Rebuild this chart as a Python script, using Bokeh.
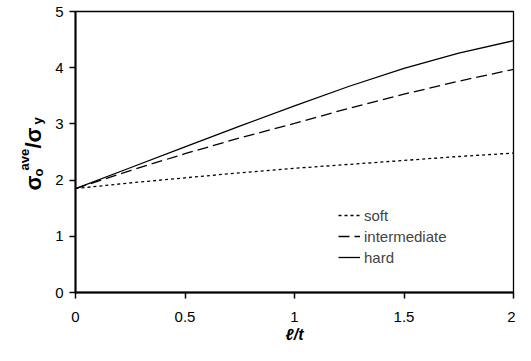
import math
from bokeh.plotting import figure
from bokeh.layouts import row
from bokeh.models import Range1d, FixedTicker, Label, Legend, LegendItem
from bokeh.embed import file_html
from bokeh.resources import INLINE

# data
x_vals = [0, 0.25, 0.5, 0.75, 1.0, 1.25, 1.5, 1.75, 2.0]
soft = [1.85, 1.95, 2.04, 2.13, 2.21, 2.28, 2.35, 2.42, 2.48]
intermediate = [1.85, 2.17, 2.47, 2.75, 3.01, 3.28, 3.53, 3.76, 3.97]
hard = [1.85, 2.22, 2.59, 2.96, 3.32, 3.67, 3.99, 4.26, 4.48]
series_names = ["soft", "intermediate", "hard"]
x_ticks = [0, 0.5, 1, 1.5, 2]
x_tick_labels = ["0", "0.5", "1", "1.5", "2"]
y_ticks = [0, 1, 2, 3, 4, 5]
y_tick_labels = ["0", "1", "2", "3", "4", "5"]

FONT = "Liberation Sans"
W, H = 515, 345
TW = 50                              # width of the strip holding the y-axis title
FL, FR, FT, FB = 75, 513, 11, 296    # frame edges in page-canvas pixels

# ---- strip with the rotated y-axis title ----
t = figure(width=TW, height=H, output_backend="svg", toolbar_location=None,
           x_axis_type=None, y_axis_type=None,
           min_border_left=0, min_border_right=0, min_border_top=FT, min_border_bottom=H - FB)
t.outline_line_color = None
t.xgrid.visible = False
t.ygrid.visible = False
t.background_fill_color = "white"
t.border_fill_color = "white"

def ylab(text, px, py, size):
    # screen units are measured from the frame's bottom-left corner
    t.add_layout(Label(x=px, y=FB - py, x_units="screen", y_units="screen",
                       text=text, angle=math.pi / 2, angle_units="rad", text_font=FONT,
                       text_font_style="bold", text_font_size=size,
                       text_baseline="alphabetic", text_align="left",
                       text_color="black"))

ylab("\u03c3", 33, 194, "22px")
ylab("o", 38, 180, "13px")
ylab("ave", 24, 174, "13px")
ylab("/\u03c3", 33, 152, "22px")
ylab("y", 37, 128, "13px")

# ---- main plot ----
p = figure(width=W - TW, height=H, output_backend="svg", toolbar_location=None,
           x_range=Range1d(0, 2), y_range=Range1d(0, 5),
           min_border_left=FL - TW, min_border_right=W - FR, min_border_top=FT,
           min_border_bottom=H - FB)
p.xgrid.visible = False
p.ygrid.visible = False
p.background_fill_color = "white"
p.border_fill_color = "white"
p.outline_line_color = "black"
p.outline_line_width = 1.3

for ax in (p.xaxis[0], p.yaxis[0]):
    ax.axis_line_width = 2
    ax.axis_line_color = "black"
    ax.major_tick_line_width = 1.5
    ax.major_tick_in = 0
    ax.major_tick_out = 6
    ax.minor_tick_line_color = None
    ax.major_label_text_font = FONT
    ax.major_label_text_font_size = "15px"
    ax.major_label_text_color = "black"

p.xaxis.ticker = FixedTicker(ticks=x_ticks)
p.yaxis.ticker = FixedTicker(ticks=y_ticks)
p.xaxis.major_label_overrides = {t_: l for t_, l in zip(x_ticks, x_tick_labels)}
p.yaxis.major_label_overrides = {t_: l for t_, l in zip(y_ticks, y_tick_labels)}
p.xaxis.major_label_standoff = 13
p.yaxis.major_label_standoff = 6

p.xaxis.axis_label = "\u2113/t"
p.xaxis.axis_label_text_font = FONT
p.xaxis.axis_label_text_font_style = "bold italic"
p.xaxis.axis_label_text_font_size = "16px"
p.xaxis.axis_label_standoff = 1
p.xaxis.axis_label_text_color = "black"

r_soft = p.line(x_vals, soft, line_color="black", line_width=1.3, line_dash="3 3")
r_int = p.line(x_vals, intermediate, line_color="black", line_width=1.3, line_dash="11 5")
r_hard = p.line(x_vals, hard, line_color="black", line_width=1.3)

legend = Legend(items=[LegendItem(label=series_names[0], renderers=[r_soft]),
                       LegendItem(label=series_names[1], renderers=[r_int]),
                       LegendItem(label=series_names[2], renderers=[r_hard])],
                location=(263, 26), label_text_font=FONT, label_text_font_size="15px",
                glyph_width=22, glyph_height=18, label_height=18, spacing=3,
                label_standoff=4, padding=0, margin=0,
                border_line_color=None, background_fill_alpha=0)
p.add_layout(legend, "center")

layout = row(t, p, spacing=0)
open("out.html", "w").write(file_html(layout, INLINE))
